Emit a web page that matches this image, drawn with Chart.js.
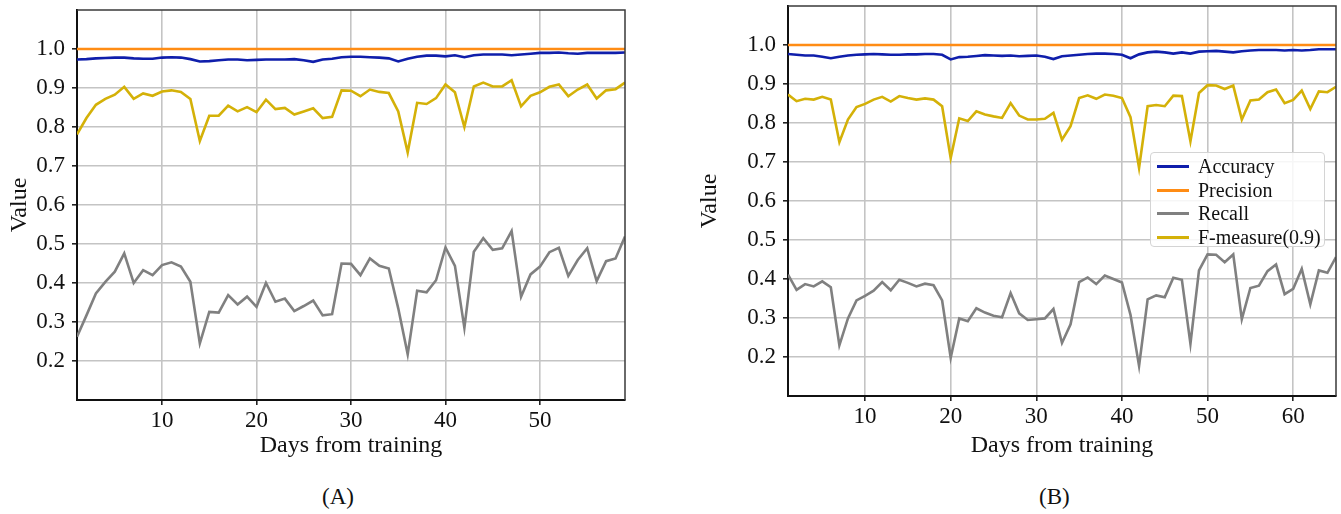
<!DOCTYPE html>
<html>
<head>
<meta charset="utf-8">
<title>Metrics by days from training</title>
<script src="https://cdn.jsdelivr.net/npm/chart.js@4.4.1/dist/chart.umd.min.js"></script>
<style>
  body { margin: 0; width: 1341px; height: 514px; background: #fff; position: relative; overflow: hidden;
         font-family: "Liberation Serif", "Times New Roman", serif; color: #111; }
  canvas { position: absolute; top: 0; }
  #chartA { left: 0; }
  #chartB { left: 690px; }
  .cap { position: absolute; top: 484px; font-size: 23px; }
  #legendB { position: absolute; left: 1150px; top: 152px; width: 175px; height: 95px; box-sizing: border-box;
             border: 1px solid #d4d4d4; border-radius: 4px; background: rgba(255,255,255,0.85); font-size: 20px; }
  #legendB .row { position: absolute; left: 0; height: 24px; line-height: 24px; white-space: nowrap; }
  #legendB .swatch { position: absolute; left: 6px; top: 11px; width: 32px; height: 3px; }
  #legendB .txt { position: absolute; left: 47px; top: 0; }
</style>
</head>
<body>
<canvas id="chartA" width="660" height="470"></canvas>
<canvas id="chartB" width="651" height="470"></canvas>
<div class="cap" style="left:322px">(A)</div>
<div class="cap" style="left:1039px">(B)</div>
<div id="legendB"></div>
<script>
const seriesNames = ['Accuracy', 'Precision', 'Recall', 'F-measure(0.9)'];
const seriesColors = ['#0f1eab', '#ff8c14', '#808080', '#d4b108'];
const yTicks = [0.2, 0.3, 0.4, 0.5, 0.6, 0.7, 0.8, 0.9, 1.0];

// (A)
const daysA = [1, 2, 3, 4, 5, 6, 7, 8, 9, 10, 11, 12, 13, 14, 15, 16, 17, 18, 19, 20,
  21, 22, 23, 24, 25, 26, 27, 28, 29, 30, 31, 32, 33, 34, 35, 36, 37, 38, 39, 40,
  41, 42, 43, 44, 45, 46, 47, 48, 49, 50, 51, 52, 53, 54, 55, 56, 57, 58, 59];
const xTicksA = [10, 20, 30, 40, 50];
const accuracyA = [0.973, 0.974, 0.976, 0.977, 0.978, 0.978, 0.976, 0.975, 0.975, 0.978,
  0.979, 0.978, 0.974, 0.968, 0.969, 0.971, 0.973, 0.973, 0.971, 0.972,
  0.973, 0.973, 0.973, 0.974, 0.971, 0.967, 0.973, 0.975, 0.979, 0.980,
  0.980, 0.979, 0.978, 0.976, 0.968, 0.975, 0.980, 0.983, 0.983, 0.981,
  0.984, 0.979, 0.984, 0.986, 0.986, 0.986, 0.984, 0.986, 0.988, 0.990,
  0.990, 0.991, 0.989, 0.988, 0.990, 0.990, 0.990, 0.990, 0.991];
const precisionA = [1, 1, 1, 1, 1, 1, 1, 1, 1, 1, 1, 1, 1, 1, 1, 1, 1, 1, 1, 1,
  1, 1, 1, 1, 1, 1, 1, 1, 1, 1, 1, 1, 1, 1, 1, 1, 1, 1, 1, 1,
  1, 1, 1, 1, 1, 1, 1, 1, 1, 1, 1, 1, 1, 1, 1, 1, 1, 1, 1];
const recallA = [0.262, 0.317, 0.373, 0.403, 0.429, 0.476, 0.400, 0.433, 0.420, 0.446,
  0.453, 0.442, 0.403, 0.245, 0.326, 0.324, 0.369, 0.345, 0.365, 0.339,
  0.400, 0.352, 0.360, 0.328, 0.341, 0.355, 0.317, 0.320, 0.450, 0.449,
  0.420, 0.463, 0.444, 0.437, 0.335, 0.217, 0.380, 0.376, 0.407, 0.491,
  0.444, 0.285, 0.480, 0.515, 0.485, 0.489, 0.533, 0.365, 0.422, 0.442,
  0.479, 0.490, 0.418, 0.459, 0.489, 0.405, 0.456, 0.463, 0.519];
const fmeasureA = [0.781, 0.823, 0.857, 0.872, 0.883, 0.903, 0.872, 0.886, 0.880, 0.891,
  0.894, 0.890, 0.872, 0.764, 0.829, 0.829, 0.855, 0.840, 0.851, 0.838,
  0.870, 0.846, 0.849, 0.832, 0.840, 0.848, 0.823, 0.826, 0.894, 0.893,
  0.879, 0.896, 0.890, 0.887, 0.840, 0.735, 0.862, 0.859, 0.874, 0.909,
  0.889, 0.800, 0.904, 0.914, 0.904, 0.904, 0.920, 0.853, 0.880, 0.889,
  0.903, 0.909, 0.879, 0.896, 0.909, 0.873, 0.894, 0.897, 0.914];

// (B)
const daysB = [1, 2, 3, 4, 5, 6, 7, 8, 9, 10, 11, 12, 13, 14, 15, 16, 17, 18, 19, 20,
  21, 22, 23, 24, 25, 26, 27, 28, 29, 30, 31, 32, 33, 34, 35, 36, 37, 38, 39, 40,
  41, 42, 43, 44, 45, 46, 47, 48, 49, 50, 51, 52, 53, 54, 55, 56, 57, 58, 59, 60,
  61, 62, 63, 64, 65];
const xTicksB = [10, 20, 30, 40, 50, 60];
const accuracyB = [0.977, 0.975, 0.973, 0.973, 0.970, 0.966, 0.970, 0.973, 0.975, 0.976,
  0.977, 0.976, 0.975, 0.975, 0.976, 0.976, 0.977, 0.977, 0.975, 0.963,
  0.969, 0.970, 0.972, 0.974, 0.973, 0.972, 0.973, 0.971, 0.972, 0.973,
  0.970, 0.964, 0.971, 0.973, 0.975, 0.977, 0.978, 0.978, 0.977, 0.975,
  0.966, 0.976, 0.981, 0.983, 0.981, 0.978, 0.981, 0.978, 0.983, 0.984,
  0.985, 0.983, 0.981, 0.984, 0.986, 0.987, 0.987, 0.987, 0.986, 0.987,
  0.986, 0.987, 0.989, 0.989, 0.989];
const precisionB = [1, 1, 1, 1, 1, 1, 1, 1, 1, 1, 1, 1, 1, 1, 1, 1, 1, 1, 1, 1,
  1, 1, 1, 1, 1, 1, 1, 1, 1, 1, 1, 1, 1, 1, 1, 1, 1, 1, 1, 1,
  1, 1, 1, 1, 1, 1, 1, 1, 1, 1, 1, 1, 1, 1, 1, 1, 1, 1, 1, 1,
  1, 1, 1, 1, 1];
const recallB = [0.411, 0.372, 0.387, 0.381, 0.394, 0.379, 0.230, 0.299, 0.345, 0.357,
  0.370, 0.392, 0.371, 0.398, 0.390, 0.381, 0.388, 0.384, 0.345, 0.198,
  0.299, 0.292, 0.325, 0.314, 0.306, 0.302, 0.364, 0.312, 0.295, 0.297,
  0.299, 0.323, 0.236, 0.284, 0.392, 0.404, 0.387, 0.409, 0.400, 0.391,
  0.308, 0.177, 0.348, 0.358, 0.353, 0.403, 0.398, 0.234, 0.422, 0.463,
  0.462, 0.443, 0.463, 0.297, 0.377, 0.383, 0.420, 0.437, 0.361, 0.375,
  0.426, 0.335, 0.422, 0.416, 0.456];
const fmeasureB = [0.873, 0.856, 0.862, 0.860, 0.867, 0.860, 0.751, 0.809, 0.841, 0.849,
  0.860, 0.867, 0.855, 0.869, 0.864, 0.860, 0.863, 0.860, 0.843, 0.710,
  0.812, 0.805, 0.830, 0.822, 0.817, 0.813, 0.851, 0.819, 0.809, 0.809,
  0.811, 0.826, 0.757, 0.792, 0.864, 0.871, 0.862, 0.873, 0.870, 0.864,
  0.815, 0.685, 0.843, 0.846, 0.843, 0.870, 0.869, 0.753, 0.877, 0.897,
  0.896, 0.887, 0.896, 0.809, 0.858, 0.860, 0.879, 0.886, 0.851, 0.859,
  0.883, 0.836, 0.881, 0.879, 0.893];

Chart.defaults.font.family = '"Liberation Serif", "Times New Roman", serif';
Chart.defaults.color = '#111';

// dark frame on the top and right edge of the plot
const framePlugin = {
  id: 'frame',
  afterDraw(chart) {
    const { ctx, chartArea: a } = chart;
    ctx.save();
    ctx.strokeStyle = '#3a3a3a';
    ctx.lineWidth = 1.5;
    ctx.beginPath();
    ctx.moveTo(a.left, a.top);
    ctx.lineTo(a.right, a.top);
    ctx.lineTo(a.right, a.bottom);
    ctx.stroke();
    ctx.restore();
  }
};

function makeChart(id, days, values, xMax, xTicks, yAxisWidth, pad) {
  const datasets = values.map((vals, i) => ({
    label: seriesNames[i],
    data: vals.map((v, k) => ({ x: days[k], y: v })),
    borderColor: seriesColors[i],
    borderWidth: 2.6,
    pointRadius: 0,
    tension: 0,
    fill: false
  }));
  return new Chart(document.getElementById(id), {
    type: 'line',
    data: { datasets },
    plugins: [framePlugin],
    options: {
      responsive: false,
      animation: false,
      layout: { padding: pad },
      plugins: { legend: { display: false }, tooltip: { enabled: false } },
      scales: {
        x: {
          type: 'linear', min: 1, max: xMax,
          afterBuildTicks: s => { s.ticks = xTicks.map(v => ({ value: v })); },
          afterFit: s => { s.height = 470 - pad.top - 390; s.paddingLeft = 0; s.paddingRight = 0; },
          grid: { color: '#c4c4c4', lineWidth: 1.6, tickLength: 5, tickColor: '#222' },
          border: { color: '#111', width: 2 },
          ticks: { font: { size: 23 }, padding: 2, maxRotation: 0 },
          title: { display: true, text: 'Days from training', font: { size: 24 }, padding: { top: 0, bottom: 10 } }
        },
        y: {
          min: 0.1, max: 1.1,
          afterBuildTicks: s => { s.ticks = yTicks.map(v => ({ value: v })); },
          afterFit: s => { s.width = yAxisWidth; s.paddingTop = 0; s.paddingBottom = 0; },
          grid: { color: '#c4c4c4', lineWidth: 1.6, tickLength: 5, tickColor: '#222' },
          border: { color: '#111', width: 2 },
          ticks: { font: { size: 23 }, padding: 7, callback: v => v.toFixed(1) },
          title: { display: true, text: 'Value', font: { size: 24 }, padding: { top: 5, bottom: 0 } }
        }
      }
    }
  });
}

makeChart('chartA', daysA, [accuracyA, precisionA, recallA, fmeasureA], 59, xTicksA, 77,
  { top: 10, right: 35, bottom: 0, left: 0 });
makeChart('chartB', daysB, [accuracyB, precisionB, recallB, fmeasureB], 65, xTicksB, 98,
  { top: 6, right: 5, bottom: 0, left: 0 });

// legend inside panel (B)
const legend = document.getElementById('legendB');
seriesNames.forEach((name, i) => {
  const row = document.createElement('div');
  row.className = 'row';
  row.style.top = (1 + i * 23.5) + 'px';
  row.innerHTML = '<span class="swatch" style="background:' + seriesColors[i] + '"></span><span class="txt">' + name + '</span>';
  legend.appendChild(row);
});
</script>
</body>
</html>
